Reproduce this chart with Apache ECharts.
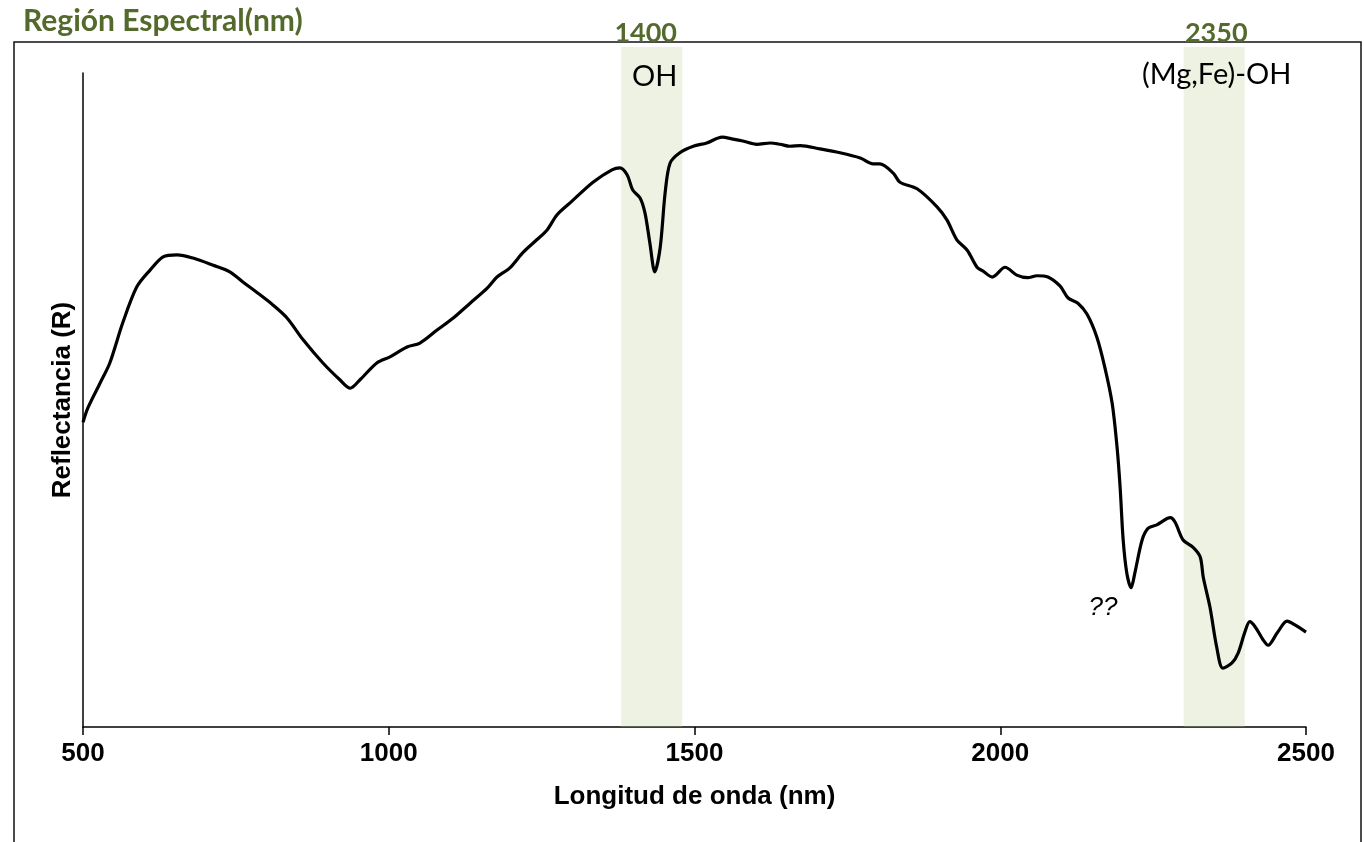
<!DOCTYPE html>
<html>
<head>
<meta charset="utf-8">
<script src="https://cdn.jsdelivr.net/npm/echarts@6/dist/echarts.min.js"></script>
<style>
  html, body { margin: 0; padding: 0; background: #fff; }
  #chart { width: 1364px; height: 842px; }
</style>
</head>
<body>
<div id="chart"></div>
<script>
// Wavelength (nm)
const wavelengths = [
  500, 508, 528, 544, 565, 588, 610, 631, 654, 680,
  713, 740, 762, 785, 811, 834, 860, 892, 920, 937,
  953, 981, 1002, 1030, 1051, 1079, 1105, 1133, 1161, 1177,
  1198, 1220, 1242, 1259, 1275, 1296, 1334, 1365, 1378, 1390,
  1399, 1411, 1419, 1427, 1435, 1444, 1452, 1460, 1476, 1498,
  1520, 1545, 1563, 1579, 1602, 1624, 1640, 1656, 1673, 1705,
  1738, 1771, 1792, 1803, 1825, 1836, 1864, 1897, 1913, 1929,
  1946, 1962, 1972, 1987, 2008, 2027, 2045, 2060, 2078, 2098,
  2111, 2127, 2142, 2158, 2171, 2183, 2191, 2196, 2201, 2207,
  2214, 2220, 2232, 2242, 2256, 2278, 2286, 2299, 2315, 2327,
  2332, 2343, 2354, 2364, 2379, 2389, 2400, 2408, 2417, 2430,
  2438, 2453, 2469, 2482, 2500
];
// Reflectance (relative, %)
const reflectance = [
  46.6, 48.8, 52.6, 55.7, 61.8, 67.3, 69.9, 71.9, 72.2, 71.7,
  70.6, 69.6, 68.0, 66.4, 64.5, 62.5, 59.2, 55.7, 53.1, 51.8,
  53.1, 55.7, 56.6, 58.1, 58.7, 60.7, 62.5, 64.8, 67.1, 68.8,
  70.2, 72.6, 74.5, 76.0, 78.3, 80.1, 83.3, 85.2, 85.5, 84.4,
  82.1, 80.9, 78.6, 74.0, 69.6, 73.4, 81.7, 86.2, 87.8, 88.8,
  89.3, 90.2, 89.9, 89.6, 89.1, 89.3, 89.1, 88.8, 88.9, 88.4,
  87.8, 87.0, 86.1, 86.1, 84.7, 83.3, 82.3, 79.5, 77.5, 74.5,
  72.9, 70.3, 69.7, 68.8, 70.3, 69.1, 68.7, 69.0, 68.8, 67.4,
  65.6, 64.8, 63.1, 59.6, 55.0, 49.5, 42.8, 36.7, 28.6, 23.5,
  21.3, 23.5, 28.6, 30.4, 30.9, 32.0, 31.3, 28.6, 27.5, 26.0,
  22.9, 18.3, 12.2, 9.0, 9.8, 11.3, 14.5, 16.1, 15.3, 13.3,
  12.5, 14.4, 16.2, 15.6, 14.5
];
const xTicks = [500, 1000, 1500, 2000, 2500];
// Absorption bands (nm)
const bandStart = [1380, 2300];
const bandEnd = [1480, 2400];
const bandCentreLabels = ['1400', '2350'];
// Annotation texts and their data positions
const noteTexts = ['OH', '(Mg,Fe)-OH', '??'];
const noteX = [1435, 2354, 2168];
const noteY = [99.4, 99.8, 18.2];
const noteItalic = [false, false, true];

const chart = echarts.init(document.getElementById('chart'), null, { renderer: 'canvas' });
const green = '#546a2c';
const lineData = wavelengths.map((w, i) => [w, reflectance[i]]);

const option = {
  animation: false,
  backgroundColor: '#fff',
  title: {
    text: 'Región Espectral(nm)',
    left: 18, top: 1,
    textStyle: { fontFamily: 'Lato', fontWeight: 'bold', fontSize: 30, color: green }
  },
  graphic: [{
    type: 'rect', z: 0, silent: true,
    shape: { x: 14, y: 42, width: 1347, height: 830 },
    style: { fill: null, stroke: '#111', lineWidth: 1.5 }
  }],
  grid: [
    { left: 83, right: 58, top: 73, bottom: 115 },
    { left: 83, right: 58, top: 47, bottom: 115 }
  ],
  xAxis: [{
    type: 'value', gridIndex: 0, min: 500, max: 2500, interval: 500,
    name: 'Longitud de onda (nm)', nameLocation: 'middle', nameGap: 57,
    nameTextStyle: { fontFamily: 'Liberation Sans', fontWeight: 'bold', fontSize: 26, color: '#000' },
    axisLine: { lineStyle: { color: '#000', width: 1.5 } },
    axisTick: { show: true, length: 8, lineStyle: { color: '#000', width: 1.5 } },
    axisLabel: {
      margin: 14, fontFamily: 'Liberation Sans', fontWeight: 'bold', fontSize: 26, color: '#000',
      formatter: v => xTicks.includes(v) ? String(v) : ''
    },
    splitLine: { show: false }
  }, {
    type: 'value', gridIndex: 1, min: 500, max: 2500, show: false
  }],
  yAxis: [{
    type: 'value', gridIndex: 0, min: 0, max: 100,
    name: 'Reflectancia (R)', nameLocation: 'middle', nameGap: 7,
    nameTextStyle: { fontFamily: 'Liberation Sans', fontWeight: 'bold', fontSize: 26, color: '#000' },
    axisLine: { show: true, lineStyle: { color: '#000', width: 1.5 } },
    axisTick: { show: false },
    axisLabel: { show: false },
    splitLine: { show: false }
  }, {
    type: 'value', gridIndex: 1, min: 0, max: 100, show: false
  }],
  series: [{
    type: 'line', xAxisIndex: 0, yAxisIndex: 0, z: 2,
    data: lineData, smooth: 0.3, showSymbol: false, symbol: 'none',
    lineStyle: { color: '#000', width: 3.2 }
  }, {
    type: 'line', xAxisIndex: 1, yAxisIndex: 1, z: 5, data: [],
    markArea: {
      silent: true,
      itemStyle: { color: 'rgba(192,208,152,0.27)' },
      label: {
        show: true, position: 'top', distance: 0,
        fontFamily: 'Lato', fontWeight: 'bold', fontSize: 27, color: green
      },
      data: bandStart.map((s, i) => [{ name: bandCentreLabels[i], xAxis: s, label: { offset: [i === 0 ? -6 : 2, 0] } }, { xAxis: bandEnd[i] }])
    }
  }, {
    type: 'scatter', xAxisIndex: 0, yAxisIndex: 0, z: 10,
    symbolSize: 1, itemStyle: { color: 'transparent', opacity: 1 },
    data: noteTexts.map((t, i) => ({
      name: t, value: [noteX[i], noteY[i]],
      label: {
        show: true, position: 'inside', formatter: '{b}', opacity: 1,
        fontFamily: noteItalic[i] ? 'Liberation Sans' : 'Lato',
        fontStyle: noteItalic[i] ? 'italic' : 'normal',
        fontWeight: 'normal',
        fontSize: noteItalic[i] ? 26 : 29, color: '#000'
      }
    }))
  }]
};
chart.setOption(option);
</script>
</body>
</html>
